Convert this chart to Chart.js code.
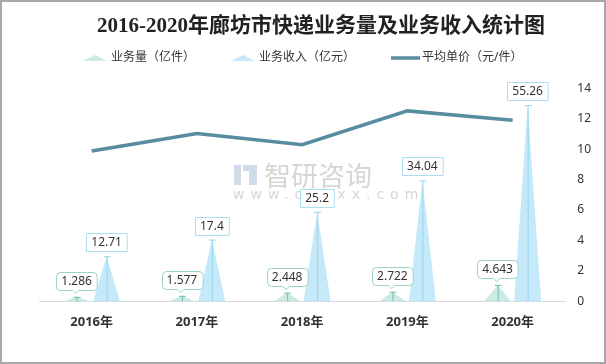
<!DOCTYPE html>
<html>
<head>
<meta charset="utf-8">
<script src="https://cdn.jsdelivr.net/npm/chart.js@4.4.0/dist/chart.umd.min.js"></script>
<style>
  html, body { margin: 0; padding: 0; background: #fff; }
  #wrap { width: 606px; height: 364px; }
</style>
</head>
<body>
<div id="wrap"><canvas id="myChart" width="606" height="364"></canvas></div>
<script>
// data
var years = ["2016年", "2017年", "2018年", "2019年", "2020年"];
var volume = [1.286, 1.577, 2.448, 2.722, 4.643];      // 业务量（亿件）
var revenue = [12.71, 17.4, 25.2, 34.04, 55.26];       // 业务收入（亿元）
var price = [9.88, 11.03, 10.29, 12.51, 11.9];         // 平均单价（元/件）
var legendNames = ["业务量（亿件）", "业务收入（亿元）", "平均单价（元/件）"];

var volColor = "#cde9e4";
var volStem = "#6fc0b2";
var revColor = "#c5e9f8";
var revStem = "#96d6ec";
var lineColor = "#588ca1";
var txtFont = "'Noto Sans', 'Noto Sans CJK SC', sans-serif";

// draw bars as triangles (peaks), using the bar elements from chart.js
var peakPlugin = {
  id: 'peaks',
  beforeDatasetDraw: function(chart, args) {
    var ds = chart.data.datasets[args.index];
    if (ds.type !== 'bar') return;
    var ctx = chart.ctx;
    ctx.save();
    args.meta.data.forEach(function(bar) {
      var half = bar.width / 2;
      ctx.beginPath();
      ctx.moveTo(bar.x - half, bar.base);
      ctx.lineTo(bar.x, bar.y);
      ctx.lineTo(bar.x + half, bar.base);
      ctx.closePath();
      ctx.fillStyle = ds.backgroundColor;
      ctx.fill();
      // stem + small cap
      ctx.beginPath();
      ctx.moveTo(bar.x + 0.5, bar.base);
      ctx.lineTo(bar.x + 0.5, bar.y);
      ctx.moveTo(bar.x - 3, bar.y + 0.5);
      ctx.lineTo(bar.x + 4, bar.y + 0.5);
      ctx.strokeStyle = ds.borderColor;
      ctx.lineWidth = 1;
      ctx.stroke();
    });
    ctx.restore();
    return false;
  }
};

// value boxes above peaks
var labelPlugin = {
  id: 'valueBoxes',
  afterDatasetsDraw: function(chart) {
    var ctx = chart.ctx;
    ctx.save();
    ctx.font = "12px " + txtFont;
    ctx.textAlign = 'center';
    ctx.textBaseline = 'middle';
    chart.data.datasets.forEach(function(ds, di) {
      if (ds.type !== 'bar') return;
      var meta = chart.getDatasetMeta(di);
      meta.data.forEach(function(bar, i) {
        var txt = String(ds.data[i]);
        var w = ctx.measureText(txt).width + 10;
        var h = 18;
        var bottom = bar.y - (di === 0 ? 7 : 5);
        var left = Math.round(bar.x - w / 2) + 0.5;
        var top = Math.round(bottom - h) + 0.5;
        ctx.beginPath();
        if (di === 0) {
          // rounded callout
          var r = 4;
          ctx.moveTo(left + r, top);
          ctx.lineTo(left + w - r, top);
          ctx.quadraticCurveTo(left + w, top, left + w, top + r);
          ctx.lineTo(left + w, top + h - r);
          ctx.quadraticCurveTo(left + w, top + h, left + w - r, top + h);
          ctx.lineTo(bar.x + 2, top + h);
          ctx.lineTo(bar.x - 1, top + h + 3);
          ctx.lineTo(bar.x - 4, top + h);
          ctx.lineTo(left + r, top + h);
          ctx.quadraticCurveTo(left, top + h, left, top + h - r);
          ctx.lineTo(left, top + r);
          ctx.quadraticCurveTo(left, top, left + r, top);
          ctx.closePath();
        } else {
          ctx.rect(left, top, w, h);
        }
        ctx.fillStyle = '#fff';
        ctx.fill();
        ctx.strokeStyle = di === 0 ? '#98d3ca' : '#a9dff1';
        ctx.lineWidth = 1;
        ctx.stroke();
        ctx.fillStyle = '#333';
        ctx.fillText(txt, bar.x, top + h / 2 + 0.5);
      });
    });
    ctx.restore();
  }
};

// watermark, legend and frame
var decoPlugin = {
  id: 'deco',
  beforeDatasetsDraw: function(chart) {
    var ctx = chart.ctx;
    ctx.save();
    ctx.fillStyle = '#cfdbe8';
    ctx.fillRect(234, 165, 7, 20);
    ctx.fillRect(243, 165, 14, 6);
    ctx.fillRect(249, 171, 8, 14);
    ctx.fillStyle = '#d6d6d6';
    ctx.font = "27px 'Noto Sans CJK SC', sans-serif";
    ctx.textBaseline = 'middle';
    ctx.textAlign = 'left';
    ctx.fillText("智研咨询", 264, 176);
    ctx.font = "14px 'DejaVu Sans', sans-serif";
    if ('letterSpacing' in ctx) ctx.letterSpacing = '6px';
    ctx.fillText("www.chyxx.com", 233, 195);
    ctx.restore();
  },
  afterDraw: function(chart) {
    var ctx = chart.ctx;
    ctx.save();
    ctx.font = "12px " + txtFont;
    ctx.textBaseline = 'middle';
    var iconW = [24, 24, 29], gap = [4, 4, 2], spacing = 36;
    var widths = legendNames.map(function(n) { return ctx.measureText(n).width; });
    var total = 0;
    widths.forEach(function(w, i) { total += iconW[i] + gap[i] + w; });
    total += spacing * (legendNames.length - 1);
    var x = Math.round((chart.width - total) / 2);
    var y = 58;
    legendNames.forEach(function(name, i) {
      if (i < 2) {
        ctx.beginPath();
        ctx.moveTo(x, y + 3);
        ctx.lineTo(x + iconW[i] / 2, y - 3);
        ctx.lineTo(x + iconW[i], y + 3);
        ctx.closePath();
        ctx.fillStyle = i === 0 ? volColor : revColor;
        ctx.fill();
      } else {
        ctx.beginPath();
        ctx.moveTo(x, y);
        ctx.lineTo(x + iconW[i], y);
        ctx.strokeStyle = lineColor;
        ctx.lineWidth = 3.5;
        ctx.stroke();
      }
      ctx.fillStyle = '#333';
      ctx.fillText(name, x + iconW[i] + gap[i], y);
      x += iconW[i] + gap[i] + widths[i] + spacing;
    });
    // frame
    ctx.strokeStyle = '#a8a8a8';
    ctx.lineWidth = 2;
    ctx.strokeRect(1, 1, chart.width - 2, chart.height - 2);
    ctx.restore();
  }
};

new Chart("myChart", {
  data: {
    labels: years,
    datasets: [{
      type: 'bar',
      label: legendNames[0],
      data: volume,
      backgroundColor: volColor,
      borderColor: volStem,
      yAxisID: 'y',
      barPercentage: 0.9,
      categoryPercentage: 0.57,
      order: 2
    }, {
      type: 'bar',
      label: legendNames[1],
      data: revenue,
      backgroundColor: revColor,
      borderColor: revStem,
      yAxisID: 'y',
      barPercentage: 0.9,
      categoryPercentage: 0.57,
      order: 2
    }, {
      type: 'line',
      label: legendNames[2],
      data: price,
      borderColor: lineColor,
      borderWidth: 3.5,
      pointRadius: 0,
      tension: 0,
      fill: false,
      yAxisID: 'y1',
      order: 1
    }]
  },
  options: {
    responsive: false,
    animation: false,
    layout: {
      padding: { top: 0, left: 39, right: 3, bottom: 21 }
    },
    plugins: {
      legend: { display: false },
      tooltip: { enabled: false },
      title: {
        display: true,
        text: "2016-2020年廊坊市快递业务量及业务收入统计图",
        color: '#222',
        font: { family: "'Liberation Serif', 'DejaVu Serif', 'Noto Sans CJK SC', serif", size: 21, weight: 'bold' },
        padding: { top: 14, bottom: 49 }
      }
    },
    scales: {
      x: {
        grid: { display: false, drawTicks: false },
        border: { display: true, color: '#d9d9d9', width: 1 },
        ticks: {
          color: '#333',
          padding: 13,
          font: { family: txtFont, size: 13, weight: 'bold' }
        }
      },
      y: {
        display: false,
        min: 0,
        max: 60
      },
      y1: {
        position: 'right',
        min: 0,
        max: 14,
        grid: { display: false, drawTicks: false },
        border: { display: false },
        ticks: {
          stepSize: 2,
          color: '#333',
          padding: 12,
          font: { family: txtFont, size: 12 }
        }
      }
    }
  },
  plugins: [peakPlugin, labelPlugin, decoPlugin]
});
</script>
</body>
</html>
